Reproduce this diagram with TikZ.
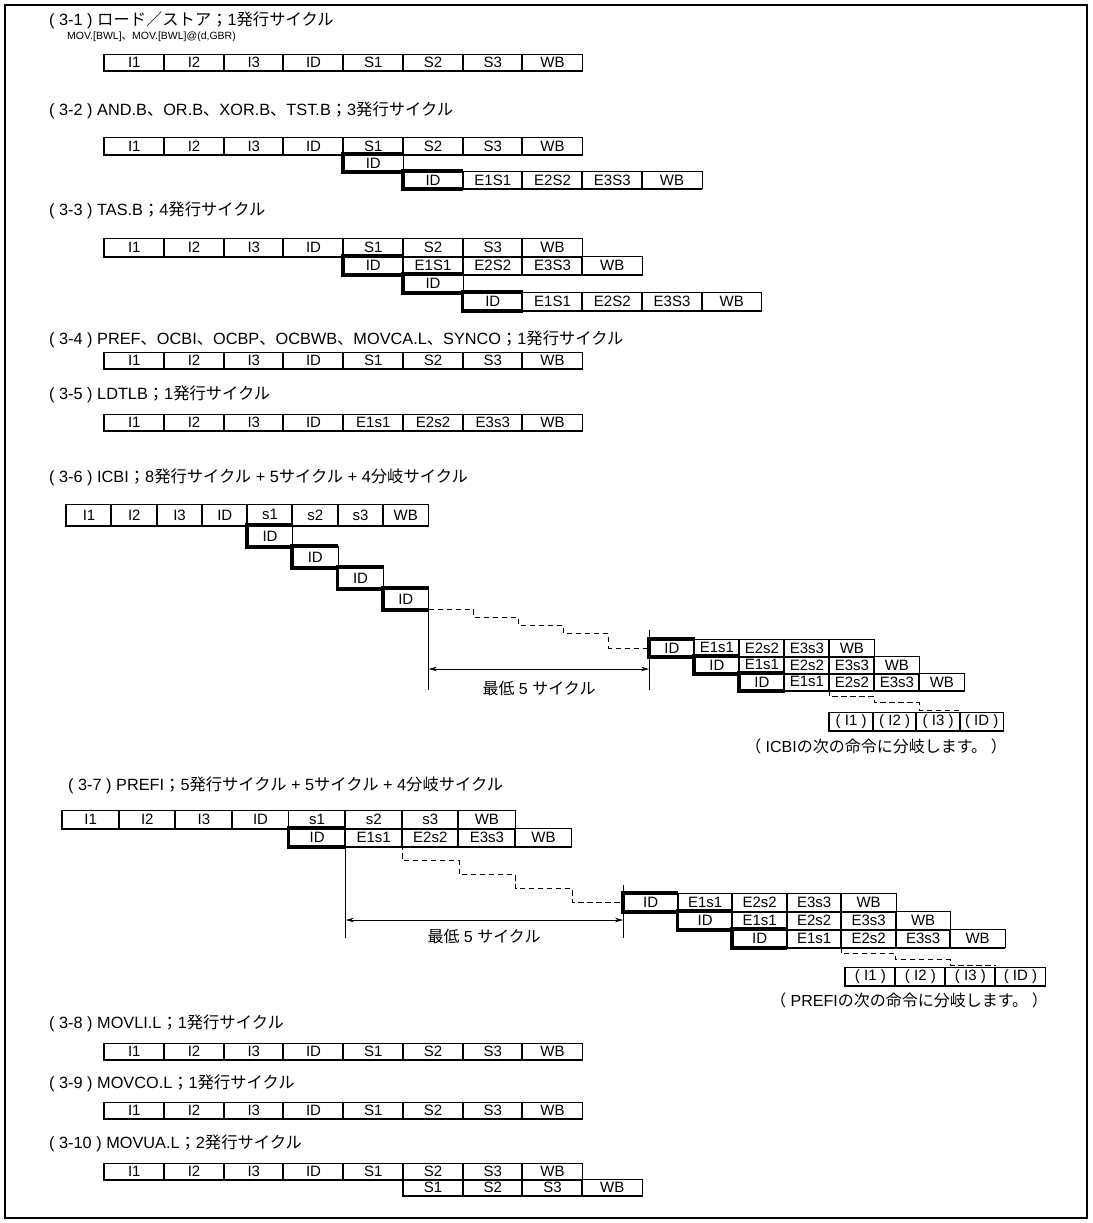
\documentclass[tikz,border=0pt]{standalone}
\usepackage{fontspec}
\setmainfont{Liberation Sans}
\newfontfamily\jp{Noto Sans CJK JP}
\newcommand\J[1]{{\jp #1}}
\usetikzlibrary{arrows.meta, positioning, calc}

\begin{document}
\begin{tikzpicture}[
    x=1pt, y=-1pt,
    cell/.style={rectangle, draw, line width=0.8pt, inner sep=0pt, anchor=north west,
        minimum width=\cw pt, minimum height=\ch pt, font=\fontsize{15}{15}\selectfont,
        append after command={\pgfextra{\draw[line width=1.8pt] (\tikzlastnode.north west) -- (\tikzlastnode.south west) -- (\tikzlastnode.south east);}}},
    stall/.style={cell,
        append after command={\pgfextra{\draw[line width=3.8pt] (\tikzlastnode.north east) -- (\tikzlastnode.north west) -- (\tikzlastnode.south west) -- (\tikzlastnode.south east);}}},
    title/.style={anchor=west, inner sep=0pt, font=\fontsize{16.3}{18}\selectfont},
    sub/.style={anchor=west, inner sep=0pt, font=\fontsize{10.5}{12}\selectfont},
    note/.style={inner sep=0pt, font=\fontsize{16}{18}\selectfont},
    span/.style={{Stealth[length=8pt,width=4.5pt]}-{Stealth[length=8pt,width=4.5pt]}, line width=0.7pt},
    wait/.style={dash pattern=on 5.5pt off 3.5pt, line width=0.8pt},
]
\useasboundingbox (0,0) rectangle (1092,1223);
\draw[line width=1.4pt] (5,5) rectangle (1087,1218);

% (3-1)
\def\cw{59.75}\def\ch{16}
\node[title] (t1) at (49,20) {( 3-1 ) \J{ロード／ストア；}1\J{発行サイクル}};
\node[sub] (t1s) at (67,37) {MOV.[BWL]\J{、}MOV.[BWL]@(d,GBR)};
\foreach \lab [count=\k from 0] in {I1,I2,I3,ID,S1,S2,S3,WB}
    \node[cell] (a1-\k) at ({104+\cw*\k},54) {\lab};

% (3-2)
\def\ch{17}
\node[title] (t2) at (49,110) {( 3-2 ) AND.B\J{、}OR.B\J{、}XOR.B\J{、}TST.B\J{；}3\J{発行サイクル}};
\foreach \lab [count=\k from 0] in {I1,I2,I3,ID,S1,S2,S3,WB}
    \node[cell] (b1-\k) at ({104+\cw*\k},137) {\lab};
\node[stall] (b2-4) at ({104+\cw*4},154) {ID};
\node[stall] (b3-5) at ({104+\cw*5},171) {ID};
\foreach \lab [count=\k from 6] in {E1S1,E2S2,E3S3,WB}
    \node[cell] (b3-\k) at ({104+\cw*\k},171) {\lab};

% (3-3)
\def\ch{18}
\node[title] (t3) at (49,210) {( 3-3 ) TAS.B\J{；}4\J{発行サイクル}};
\foreach \lab [count=\k from 0] in {I1,I2,I3,ID,S1,S2,S3,WB}
    \node[cell] (c1-\k) at ({104+\cw*\k},238) {\lab};
\node[stall] (c2-4) at ({104+\cw*4},256) {ID};
\foreach \lab [count=\k from 5] in {E1S1,E2S2,E3S3,WB}
    \node[cell] (c2-\k) at ({104+\cw*\k},256) {\lab};
\node[stall] (c3-5) at ({104+\cw*5},274) {ID};
\node[stall] (c4-6) at ({104+\cw*6},292) {ID};
\foreach \lab [count=\k from 7] in {E1S1,E2S2,E3S3,WB}
    \node[cell] (c4-\k) at ({104+\cw*\k},292) {\lab};

% (3-4)
\def\ch{16}
\node[title] (t4) at (49,339) {( 3-4 ) PREF\J{、}OCBI\J{、}OCBP\J{、}OCBWB\J{、}MOVCA.L\J{、}SYNCO\J{；}1\J{発行サイクル}};
\foreach \lab [count=\k from 0] in {I1,I2,I3,ID,S1,S2,S3,WB}
    \node[cell] (d1-\k) at ({104+\cw*\k},352) {\lab};

% (3-5)
\node[title] (t5) at (49,394) {( 3-5 ) LDTLB\J{；}1\J{発行サイクル}};
\foreach \lab [count=\k from 0] in {I1,I2,I3,ID,E1s1,E2s2,E3s3,WB}
    \node[cell] (e1-\k) at ({104+\cw*\k},414) {\lab};

% (3-6)
\node[title] (t6) at (49,477) {( 3-6 ) ICBI\J{；}8\J{発行サイクル} + 5\J{サイクル} + 4\J{分岐サイクル}};
\def\cw{45.25}\def\ch{21}
\foreach \lab [count=\k from 0] in {I1,I2,I3,ID,s1,s2,s3,WB}
    \node[cell] (f1-\k) at ({66+\cw*\k},504) {\lab};
\foreach \k in {4,...,7}
    \node[stall] (f-\k) at ({66+\cw*\k},{504+\ch*(\k-3)}) {ID};
\def\cw{45}\def\ch{17}
\node[stall] (g1-0) at (649,639) {ID};
\foreach \lab [count=\k from 1] in {E1s1,E2s2,E3s3,WB}
    \node[cell] (g1-\k) at ({649+\cw*\k},639) {\lab};
\node[stall] (g2-1) at ({649+\cw},656) {ID};
\foreach \lab [count=\k from 2] in {E1s1,E2s2,E3s3,WB}
    \node[cell] (g2-\k) at ({649+\cw*\k},656) {\lab};
\node[stall] (g3-2) at ({649+\cw*2},673) {ID};
\foreach \lab [count=\k from 3] in {E1s1,E2s2,E3s3,WB}
    \node[cell] (g3-\k) at ({649+\cw*\k},673) {\lab};
\def\cw{43.5}\def\ch{18}
\foreach \lab [count=\k from 0] in {( I1 ),( I2 ),( I3 ),( ID )}
    \node[cell] (h-\k) at ({829+\cw*\k},712) {\lab};
\node[note, anchor=east] (h-cap) at (1007,746) {\J{（} ICBI\J{の次の命令に分岐します。 ）}};

\coordinate (f-ar) at (0,669);
\coordinate (f-end) at (0,690);
\draw[wait] (f-7.south east) -- ++(45,0) -- ++(0,8) -- ++(45,0) -- ++(0,8) -- ++(45,0) -- ++(0,8) -- ++(45,0) |- (g1-0.west);
\draw[line width=0.7pt] (f-7.north east) -- (f-7.north east |- f-end);
\draw[line width=0.7pt] ($(g1-0.north west)+(0,-9)$) -- (g1-0.north west |- f-end);
\draw[span] (f-7.east |- f-ar) -- (g1-0.west |- f-ar);
\node[note] (f-lbl) at (539,688) {\J{最低} 5 \J{サイクル}};
\coordinate (h-top) at ($(h-2.north east)+(0,-2)$);
\draw[wait] (g3-3.south west) -- ++(45,0) -- ++(0,6) -- ++(45,0) -- ++(0,6) -- ++(45,0) |- (h-top);

% (3-7)
\node[title] (t7) at (68,785) {( 3-7 ) PREFI\J{；}5\J{発行サイクル} + 5\J{サイクル} + 4\J{分岐サイクル}};
\def\cw{56.6}\def\ch{18}
\foreach \lab [count=\k from 0] in {I1,I2,I3,ID,s1,s2,s3,WB}
    \node[cell] (q1-\k) at ({62+\cw*\k},810) {\lab};
\node[stall] (q2-4) at ({62+\cw*4},828) {ID};
\foreach \lab [count=\k from 5] in {E1s1,E2s2,E3s3,WB}
    \node[cell] (q2-\k) at ({62+\cw*\k},828) {\lab};
\def\cw{54.5}
\node[stall] (r1-0) at (623,893) {ID};
\foreach \lab [count=\k from 1] in {E1s1,E2s2,E3s3,WB}
    \node[cell] (r1-\k) at ({623+\cw*\k},893) {\lab};
\node[stall] (r2-1) at ({623+\cw},911) {ID};
\foreach \lab [count=\k from 2] in {E1s1,E2s2,E3s3,WB}
    \node[cell] (r2-\k) at ({623+\cw*\k},911) {\lab};
\node[stall] (r3-2) at ({623+\cw*2},929) {ID};
\foreach \lab [count=\k from 3] in {E1s1,E2s2,E3s3,WB}
    \node[cell] (r3-\k) at ({623+\cw*\k},929) {\lab};
\def\cw{50}
\foreach \lab [count=\k from 0] in {( I1 ),( I2 ),( I3 ),( ID )}
    \node[cell] (s-\k) at ({845+\cw*\k},967) {\lab};
\node[note, anchor=east] (s-cap) at (1048,1000) {\J{（} PREFI\J{の次の命令に分岐します。 ）}};

\coordinate (q-ar) at (0,920);
\coordinate (q-end) at (0,938);
\draw[wait] (q2-4.south east) -- ++(56.6,0) -- ++(0,14) -- ++(56.6,0) -- ++(0,14) -- ++(56.6,0) -- ++(0,14) -- ++(56.6,0) |- (r1-0.west);
\draw[line width=0.7pt] (q2-4.south east) -- (q2-4.south east |- q-end);
\draw[line width=0.7pt] ($(r1-0.north west)+(0,-8)$) -- (r1-0.north west |- q-end);
\draw[span] (q2-4.east |- q-ar) -- (r1-0.west |- q-ar);
\node[note] (q-lbl) at (484,936) {\J{最低} 5 \J{サイクル}};
\coordinate (s-top) at ($(s-2.north east)+(0,-2)$);
\draw[wait] (r3-3.south west) -- ++(54.5,0) -- ++(0,6) -- ++(54.5,0) -- ++(0,6) -- ++(54.5,0) |- (s-top);

% (3-8)
\def\cw{59.75}\def\ch{16}
\node[title] (t8) at (49,1023) {( 3-8 ) MOVLI.L\J{；}1\J{発行サイクル}};
\foreach \lab [count=\k from 0] in {I1,I2,I3,ID,S1,S2,S3,WB}
    \node[cell] (u1-\k) at ({104+\cw*\k},1043) {\lab};

% (3-9)
\node[title] (t9) at (49,1083) {( 3-9 ) MOVCO.L\J{；}1\J{発行サイクル}};
\foreach \lab [count=\k from 0] in {I1,I2,I3,ID,S1,S2,S3,WB}
    \node[cell] (v1-\k) at ({104+\cw*\k},1102) {\lab};

% (3-10)
\node[title] (t10) at (49,1143) {( 3-10 ) MOVUA.L\J{；}2\J{発行サイクル}};
\foreach \lab [count=\k from 0] in {I1,I2,I3,ID,S1,S2,S3,WB}
    \node[cell] (w1-\k) at ({104+\cw*\k},1163) {\lab};
\foreach \lab [count=\k from 5] in {S1,S2,S3,WB}
    \node[cell] (w2-\k) at ({104+\cw*\k},1179) {\lab};
\end{tikzpicture}
\end{document}
